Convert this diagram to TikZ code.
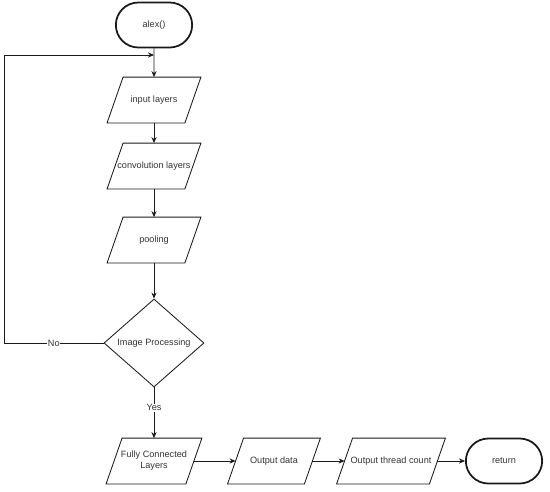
\documentclass[tikz,border=0pt]{standalone}
\usepackage{fontspec}
\setmainfont{Liberation Sans}
\usetikzlibrary{arrows.meta,shapes.geometric,shapes.misc}
\definecolor{yaziGri}{HTML}{333333}
\definecolor{cizgiSiyah}{HTML}{1A1A1A}

\begin{document}
\begin{tikzpicture}[x=0.5mm, y=-0.5mm, line width=1.2pt, cizgiSiyah,
  every node/.style={font=\fontsize{13}{15.5}\selectfont, text=yaziGri},
  terminal/.style={draw=cizgiSiyah, rounded rectangle, line width=2.5pt, minimum width=40.5mm, minimum height=22.5mm},
  veri/.style={minimum width=38.5mm, minimum height=22.5mm, align=center, inner xsep=0pt,
    append after command={\pgfextra{\draw[cizgiSiyah, line join=miter]
      ([xshift=4mm]\tikzlastnode.north west) -- ([xshift=4mm]\tikzlastnode.north east)
      -- ([xshift=-4mm]\tikzlastnode.south east) -- ([xshift=-4mm]\tikzlastnode.south west) -- cycle;}}},
  karar/.style={draw=cizgiSiyah, diamond, aspect=1.14, minimum width=50mm, minimum height=44mm, inner sep=0pt},
  ok/.style={-{Stealth[length=3mm,width=2.6mm]}},
  etiket/.style={fill=white, inner sep=1pt}]
\useasboundingbox (0,0) rectangle (550,491);
% ana akis
\node[terminal] (basla) at (154,25) {alex()};
\node[veri] (girdi) at (154,100) {input layers};
\node[veri] (evrisim) at (154,166) {convolution layers};
\node[veri] (havuz) at (154,240) {pooling};
\node[karar] (karar1) at (154,343) {Image Processing};
% alt satir
\node[veri, minimum width=39.5mm] (tam) at (154,461) {Fully Connected\\Layers};
\node[veri, minimum width=38mm] (cikti) at (274,461) {Output data};
\node[veri, minimum width=46mm] (sayi) at (391,461) {Output thread count};
\node[terminal] (donus) at (504,461) {return};
\coordinate (birles) at (154,55);
\coordinate (geri) at (4,55);
\draw[ok] (basla) -- (girdi);
\draw[ok] (girdi) -- (evrisim);
\draw[ok] (evrisim) -- (havuz);
\draw[ok] (havuz) -- (karar1);
\draw[ok] (karar1.west) -| node[etiket, pos=0.25] {No} (geri) -- (birles);
\draw[ok] (karar1) -- node[etiket, pos=0.4] {Yes} (tam);
\draw[ok] (tam) -- (cikti);
\draw[ok] (cikti) -- (sayi);
\draw[ok] (sayi) -- (donus);
\end{tikzpicture}
\end{document}
